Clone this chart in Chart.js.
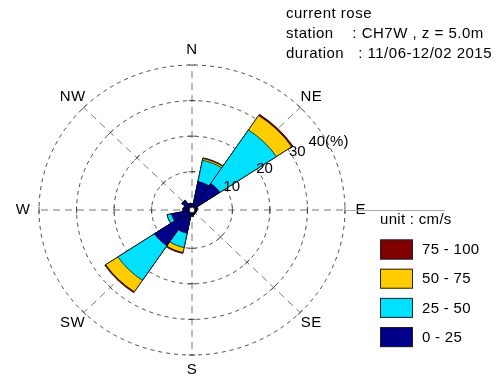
<!DOCTYPE html>
<html>
<head>
<meta charset="utf-8">
<script src="https://cdn.jsdelivr.net/npm/chart.js@4.4.1/dist/chart.umd.min.js"></script>
<style>
  body { margin: 0; background: #fff; }
  #wrap { width: 498px; height: 381px; }
</style>
</head>
<body>
<div id="wrap"><canvas id="rose" width="498" height="381"></canvas></div>
<script>
// 16 direction bins, % of time in each speed class (cm/s)
const directions = ['N', 'NNE', 'NE', 'ENE', 'E', 'ESE', 'SE', 'SSE', 'S', 'SSW', 'SW', 'WSW', 'W', 'WNW', 'NW', 'NNW'];
const speedBins = ['0 - 25', '25 - 50', '50 - 75', '75 - 100'];
const bin0_25   = [0.9, 7.4, 8.2, 0.8, 0.5, 0.4, 0.5, 0.6, 0.9, 5.9, 11.3, 4.8, 1.6, 1.5, 2.4, 1.2];
const bin25_50  = [0.1, 6.1, 18.1, 0, 0, 0, 0, 0, 0.2, 4.1, 11.7, 1.2, 0.1, 0, 0.1, 0];
const bin50_75  = [0, 0.5, 4.9, 0, 0, 0, 0, 0, 0, 1.4, 3.9, 0, 0, 0, 0, 0];
const bin75_100 = [0, 0.2, 0.4, 0, 0, 0, 0, 0, 0, 0.3, 0.3, 0, 0, 0, 0, 0];
const ringTicks = [10, 20, 30, 40];
const compassLabels = ['N', 'NE', 'E', 'SE', 'S', 'SW', 'W', 'NW'];
const titleLines = ['current rose', 'station    : CH7W , z = 5.0m', 'duration   : 11/06-12/02 2015'];
const unitLabel = 'unit : cm/s';

const binColors = ['#00008b', '#00e1ff', '#ffcc00', '#800000'];
const FONT = '15px "Liberation Sans", Arial, sans-serif';
const SX = 1.055; // original plot is a bit wider than tall

// stack the classes: each dataset holds the running total, smallest drawn on top
const bins = [bin0_25, bin25_50, bin50_75, bin75_100];
let running = directions.map(() => 0);
const stacked = bins.map(b => {
  running = running.map((v, i) => v + b[i]);
  return running.slice();
});

const rosePlugin = {
  id: 'rose',
  beforeDatasetsDraw(chart) {
    const ctx = chart.ctx;
    const r = chart.scales.r;
    const cx = r.xCenter, cy = r.yCenter;
    const outer = r.getDistanceFromCenterForValue(ringTicks[ringTicks.length - 1]);

    ctx.save();
    // dashed rings
    ctx.strokeStyle = '#222';
    ctx.lineWidth = 0.8;
    ctx.setLineDash([4, 4]);
    ringTicks.forEach(v => {
      const d = r.getDistanceFromCenterForValue(v);
      ctx.beginPath();
      ctx.ellipse(cx, cy, d * SX, d, 0, 0, Math.PI * 2);
      ctx.stroke();
    });

    // compass axes
    ctx.strokeStyle = '#555';
    ctx.setLineDash([7, 5]);
    compassLabels.forEach((lab, k) => {
      const a = k * Math.PI / 4;
      ctx.beginPath();
      ctx.moveTo(cx, cy);
      ctx.lineTo(cx + Math.sin(a) * SX * outer, cy - Math.cos(a) * outer);
      ctx.stroke();
    });

    // little ticks where axes cross the rings
    ctx.setLineDash([]);
    ctx.strokeStyle = '#333';
    compassLabels.forEach((lab, k) => {
      const a = k * Math.PI / 4;
      let ux = Math.sin(a) * SX, uy = -Math.cos(a);
      const len = Math.hypot(ux, uy);
      ringTicks.forEach(v => {
        const d = r.getDistanceFromCenterForValue(v);
        const px = cx + ux * d, py = cy + uy * d;
        const nx = -uy / len * 3.5, ny = ux / len * 3.5;
        ctx.beginPath();
        ctx.moveTo(px - nx, py - ny);
        ctx.lineTo(px + nx, py + ny);
        ctx.stroke();
      });
    });
    ctx.restore();

    // stretch the wedges the same way as the rings
    ctx.save();
    ctx.translate(cx, cy);
    ctx.scale(SX, 1);
    ctx.translate(-cx, -cy);
  },
  afterDatasetsDraw(chart) {
    const ctx = chart.ctx;
    ctx.restore();
    const r = chart.scales.r;
    const cx = r.xCenter, cy = r.yCenter;
    const outer = r.getDistanceFromCenterForValue(ringTicks[ringTicks.length - 1]);

    ctx.save();
    // hole in the middle
    const hole = r.getDistanceFromCenterForValue(0);
    ctx.beginPath();
    ctx.arc(cx, cy, hole, 0, Math.PI * 2);
    ctx.fillStyle = '#fff';
    ctx.fill();
    ctx.lineWidth = 0.6;
    ctx.strokeStyle = '#000';
    ctx.stroke();

    ctx.font = FONT;
    ctx.fillStyle = '#000';

    // compass labels
    ctx.textAlign = 'center';
    ctx.textBaseline = 'middle';
    ctx.letterSpacing = '0.5px';
    compassLabels.forEach((lab, k) => {
      const a = k * Math.PI / 4;
      const d = outer + 15;
      ctx.fillText(lab, cx + Math.sin(a) * SX * d, cy - Math.cos(a) * d);
    });
    ctx.letterSpacing = '0px';

    // ring values along a ray
    ctx.textAlign = 'left';
    const ang = 61 * Math.PI / 180;
    ringTicks.forEach((v, i) => {
      const last = i === ringTicks.length - 1;
      const d = r.getDistanceFromCenterForValue(v) * (last ? 0.9 : 1);
      ctx.fillText(last ? v + '(%)' : String(v), cx + Math.sin(ang) * SX * d - 4, cy - Math.cos(ang) * d - 5);
    });

    // line running out to the legend
    ctx.strokeStyle = '#aaa';
    ctx.lineWidth = 1;
    ctx.beginPath();
    ctx.moveTo(cx + SX * outer, cy + 0.5);
    ctx.lineTo(445, cy + 0.5);
    ctx.stroke();

    // legend
    ctx.textBaseline = 'middle';
    ctx.letterSpacing = '0.3px';
    ctx.fillText(unitLabel, 380, 220);
    const rows = speedBins.map((lab, k) => k).reverse();
    rows.forEach((k, j) => {
      const y = 239.5 + j * 29.2;
      ctx.fillStyle = binColors[k];
      ctx.fillRect(380, y, 33, 20);
      ctx.strokeStyle = '#222';
      ctx.strokeRect(380.5, y + 0.5, 32, 19);
      ctx.fillStyle = '#000';
      ctx.fillText(speedBins[k], 422, y + 10.5);
    });

    // header
    ctx.textBaseline = 'alphabetic';
    ctx.letterSpacing = '0.5px';
    titleLines.forEach((t, i) => ctx.fillText(t, 286, 18 + i * 20));
    ctx.restore();
  }
};

const ctx = document.getElementById('rose').getContext('2d');
const roseChart = new Chart(ctx, {
  type: 'polarArea',
  data: {
    labels: directions,
    datasets: stacked.map((vals, k) => ({
      label: speedBins[k],
      data: vals,
      backgroundColor: binColors[k],
      borderColor: '#000',
      borderWidth: 0.7,
      clip: false
    }))
  },
  options: {
    responsive: false,
    animation: false,
    events: [],
    layout: { padding: { left: 47, right: 161, top: 65, bottom: 26 } },
    scales: {
      r: {
        display: false,
        min: -0.75,
        max: 40,
        startAngle: -11.25
      }
    },
    plugins: {
      legend: { display: false },
      tooltip: { enabled: false }
    }
  },
  plugins: [rosePlugin]
});
</script>
</body>
</html>
